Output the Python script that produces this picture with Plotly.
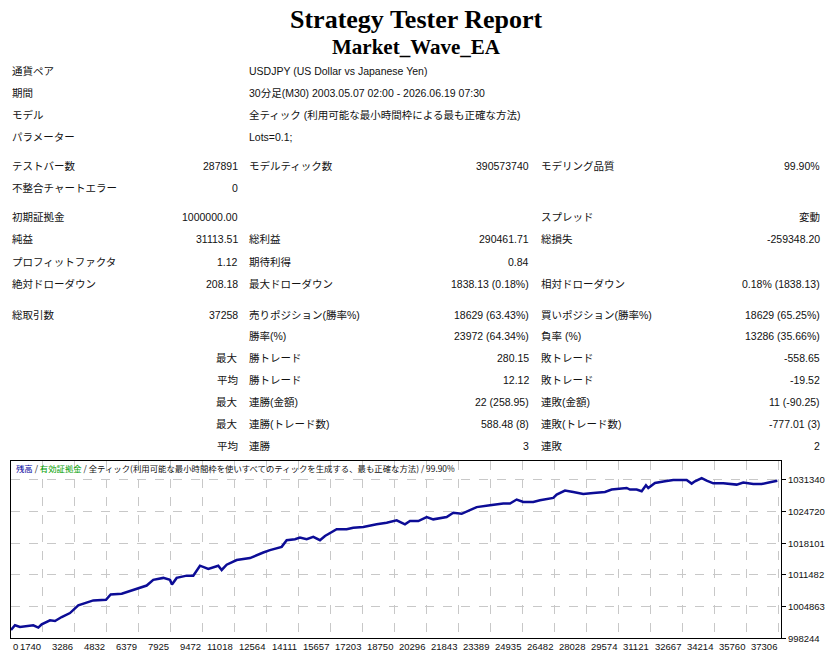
import plotly.graph_objects as go

W, H = 832, 664

# --- report header -------------------------------------------------------
title = "Strategy Tester Report"
ea_name = "Market_Wave_EA"

info_labels = ["通貨ペア", "期間", "モデル", "パラメーター"]
info_values = [
    "USDJPY (US Dollar vs Japanese Yen)",
    "30分足(M30) 2003.05.07 02:00 - 2026.06.19 07:30",
    "全ティック (利用可能な最小時間枠による最も正確な方法)",
    "Lots=0.1;",
]

# label1, value1, label2, value2, label3, value3
stat_rows = [
    ["テストバー数", "287891", "モデルティック数", "390573740", "モデリング品質", "99.90%"],
    ["不整合チャートエラー", "0", "", "", "", ""],
    ["初期証拠金", "1000000.00", "", "", "スプレッド", "変動"],
    ["純益", "31113.51", "総利益", "290461.71", "総損失", "-259348.20"],
    ["プロフィットファクタ", "1.12", "期待利得", "0.84", "", ""],
    ["絶対ドローダウン", "208.18", "最大ドローダウン", "1838.13 (0.18%)", "相対ドローダウン", "0.18% (1838.13)"],
    ["総取引数", "37258", "売りポジション(勝率%)", "18629 (63.43%)", "買いポジション(勝率%)", "18629 (65.25%)"],
    ["", "", "勝率(%)", "23972 (64.34%)", "負率 (%)", "13286 (35.66%)"],
    ["", "最大", "勝トレード", "280.15", "敗トレード", "-558.65"],
    ["", "平均", "勝トレード", "12.12", "敗トレード", "-19.52"],
    ["", "最大", "連勝(金額)", "22 (258.95)", "連敗(金額)", "11 (-90.25)"],
    ["", "最大", "連勝(トレード数)", "588.48 (8)", "連敗(トレード数)", "-777.01 (3)"],
    ["", "平均", "連勝", "3", "連敗", "2"],
]

# --- balance chart ---------------------------------------------------------
trade_no = [
    228, 421, 662, 1305, 1547, 1711, 2112, 2354, 2677, 3078, 3479, 3721, 4204,
    4818, 5045, 5577, 6137, 6785, 7103, 7587, 7910, 8007, 8234, 8717, 9036,
    9360, 9761, 10244, 10408, 10650, 11133, 11776, 12419, 12742, 13308, 13549,
    13950, 14192, 14516, 14835, 15158, 15400, 15965, 16448, 16767, 17251,
    17898, 18381, 18865, 19266, 19507, 19908, 20314, 20633, 21281, 21599,
    22005, 22730, 23373, 24015, 24339, 24663, 24982, 25465, 25789, 26432,
    26596, 26997, 27398, 27881, 28364, 28930, 29253, 29978, 30138, 30461,
    30703, 30911, 31022, 31346, 31829, 32230, 32877, 33119, 33278, 33602,
    33844, 34163, 34646, 35293, 35612, 36095, 36501, 36743, 36902, 37258,
]
balance = [
    1000000, 1000995, 1000644, 1000995, 1000520, 1001202, 1002030, 1001884,
    1002712, 1003539, 1005132, 1005484, 1006167, 1006312, 1007408, 1007553,
    1008380, 1009269, 1010448, 1010862, 1010448, 1009476, 1010862, 1011338,
    1011338, 1013406, 1012723, 1013406, 1012516, 1013613, 1014586, 1014999,
    1016158, 1016654, 1017337, 1018722, 1018929, 1019260, 1018929, 1019405,
    1018722, 1019612, 1020998, 1020998, 1021329, 1021474, 1022032, 1022363,
    1022860, 1022032, 1022715, 1022715, 1023542, 1023067, 1023542, 1024431,
    1024224, 1025611, 1026024, 1026376, 1026376, 1027203, 1026707, 1026707,
    1027059, 1027535, 1028238, 1029066, 1028776, 1028362, 1028569, 1028776,
    1029272, 1029603, 1029272, 1029272, 1028920, 1030161, 1029603, 1030637,
    1030989, 1031256, 1031256, 1030513, 1030989, 1031673, 1031134, 1030575,
    1030575, 1030306, 1030720, 1030430, 1030430, 1030575, 1030779, 1031114,
]

x_tick_vals = [0, 1740, 3286, 4832, 6379, 7925, 9472, 11018, 12564, 14111,
               15657, 17203, 18750, 20296, 21843, 23389, 24935, 26482, 28028,
               29574, 31121, 32667, 34214, 35760, 37306]
y_tick_vals = [998244, 1004863, 1011482, 1018101, 1024720, 1031340]

x_range = [228, 37436]
y_range = [998244, 1035330]

chart_caption = ("<span style='color:#00009c'>残高</span> / "
                 "<span style='color:#00a000'>有効証拠金</span> / "
                 "全ティック(利用可能な最小時間枠を使いすべてのティックを生成する、最も正確な方法) / 99.90%")

TXT = "Liberation Sans, Noto Sans CJK JP, sans-serif"


def py(pix):
    return 1 - pix / H


def px(pix):
    return pix / W


ann = []
ann.append(dict(x=0.5, y=py(20), text=f"<b>{title}</b>",
                font=dict(family="Liberation Serif", size=26, color="black")))
ann.append(dict(x=0.5, y=py(47), text=f"<b>{ea_name}</b>",
                font=dict(family="Liberation Serif", size=21, color="black")))

info_y = [72, 94, 116, 138]
for lab, val, yy in zip(info_labels, info_values, info_y):
    ann.append(dict(x=px(10), y=py(yy), text=lab, xanchor="left"))
    ann.append(dict(x=px(247), y=py(yy), text=val, xanchor="left"))

row_y = [167, 189, 219, 241, 264, 286, 317, 339, 361, 383, 405, 427, 449]
cols = [(10, "left"), (240, "right"), (247, "left"), (531, "right"), (539, "left"), (822, "right")]
for row, yy in zip(stat_rows, row_y):
    for cell, (cx, anc) in zip(row, cols):
        if cell:
            ann.append(dict(x=px(cx), y=py(yy), text=cell, xanchor=anc))

for a in ann:
    a.setdefault("xref", "paper")
    a.setdefault("yref", "paper")
    a.setdefault("yanchor", "middle")
    a.setdefault("showarrow", False)
    a.setdefault("font", dict(family=TXT, size=10.5, color="#111"))

# chart caption and x labels (right aligned to the grid lines, like the tester)
ann.append(dict(x=px(14), y=py(472), xref="paper", yref="paper", xanchor="left",
                yanchor="middle", showarrow=False, text=chart_caption,
                font=dict(family="Noto Sans CJK JP", size=8.4, color="#111")))
for v in x_tick_vals:
    left = v < x_range[0]
    ann.append(dict(x=x_range[0] if left else v, y=py(651), xref="x", yref="paper",
                    xanchor="left" if left else "right", yanchor="middle",
                    xshift=0 if left else 1, showarrow=False, text=str(v),
                    font=dict(family=TXT, size=9.5, color="#111")))

fig = go.Figure()
fig.add_trace(go.Scatter(x=trade_no, y=balance, mode="lines",
                         line=dict(color="#0c0c96", width=2.5),
                         hoverinfo="x+y", showlegend=False))

fig.update_xaxes(
    domain=[px(11), px(781)], range=x_range, tickvals=x_tick_vals[1:],
    showticklabels=False, showgrid=True, gridcolor="#c8c8c8", griddash="dash",
    gridwidth=1, zeroline=False, showline=True, mirror=True, linecolor="black",
    linewidth=1, ticks="",
)
fig.update_yaxes(
    domain=[py(643.3), py(464)], range=y_range, tickvals=y_tick_vals,
    tickformat="d", side="right", ticks="outside", ticklen=4, tickcolor="black",
    tickfont=dict(family=TXT, size=9.5, color="#111"),
    showgrid=True, gridcolor="#c8c8c8", griddash="dash", gridwidth=1,
    zeroline=False, showline=True, mirror=True, linecolor="black", linewidth=1,
)
fig.update_layout(
    width=W, height=H, margin=dict(l=0, r=0, t=0, b=0),
    paper_bgcolor="white", plot_bgcolor="white",
    annotations=ann, showlegend=False,
)

# page has a default 8px body margin; drop it so the figure fills the window
fig.write_html("out.html", config={"displayModeBar": False},
               post_script="document.body.style.margin='0';")
